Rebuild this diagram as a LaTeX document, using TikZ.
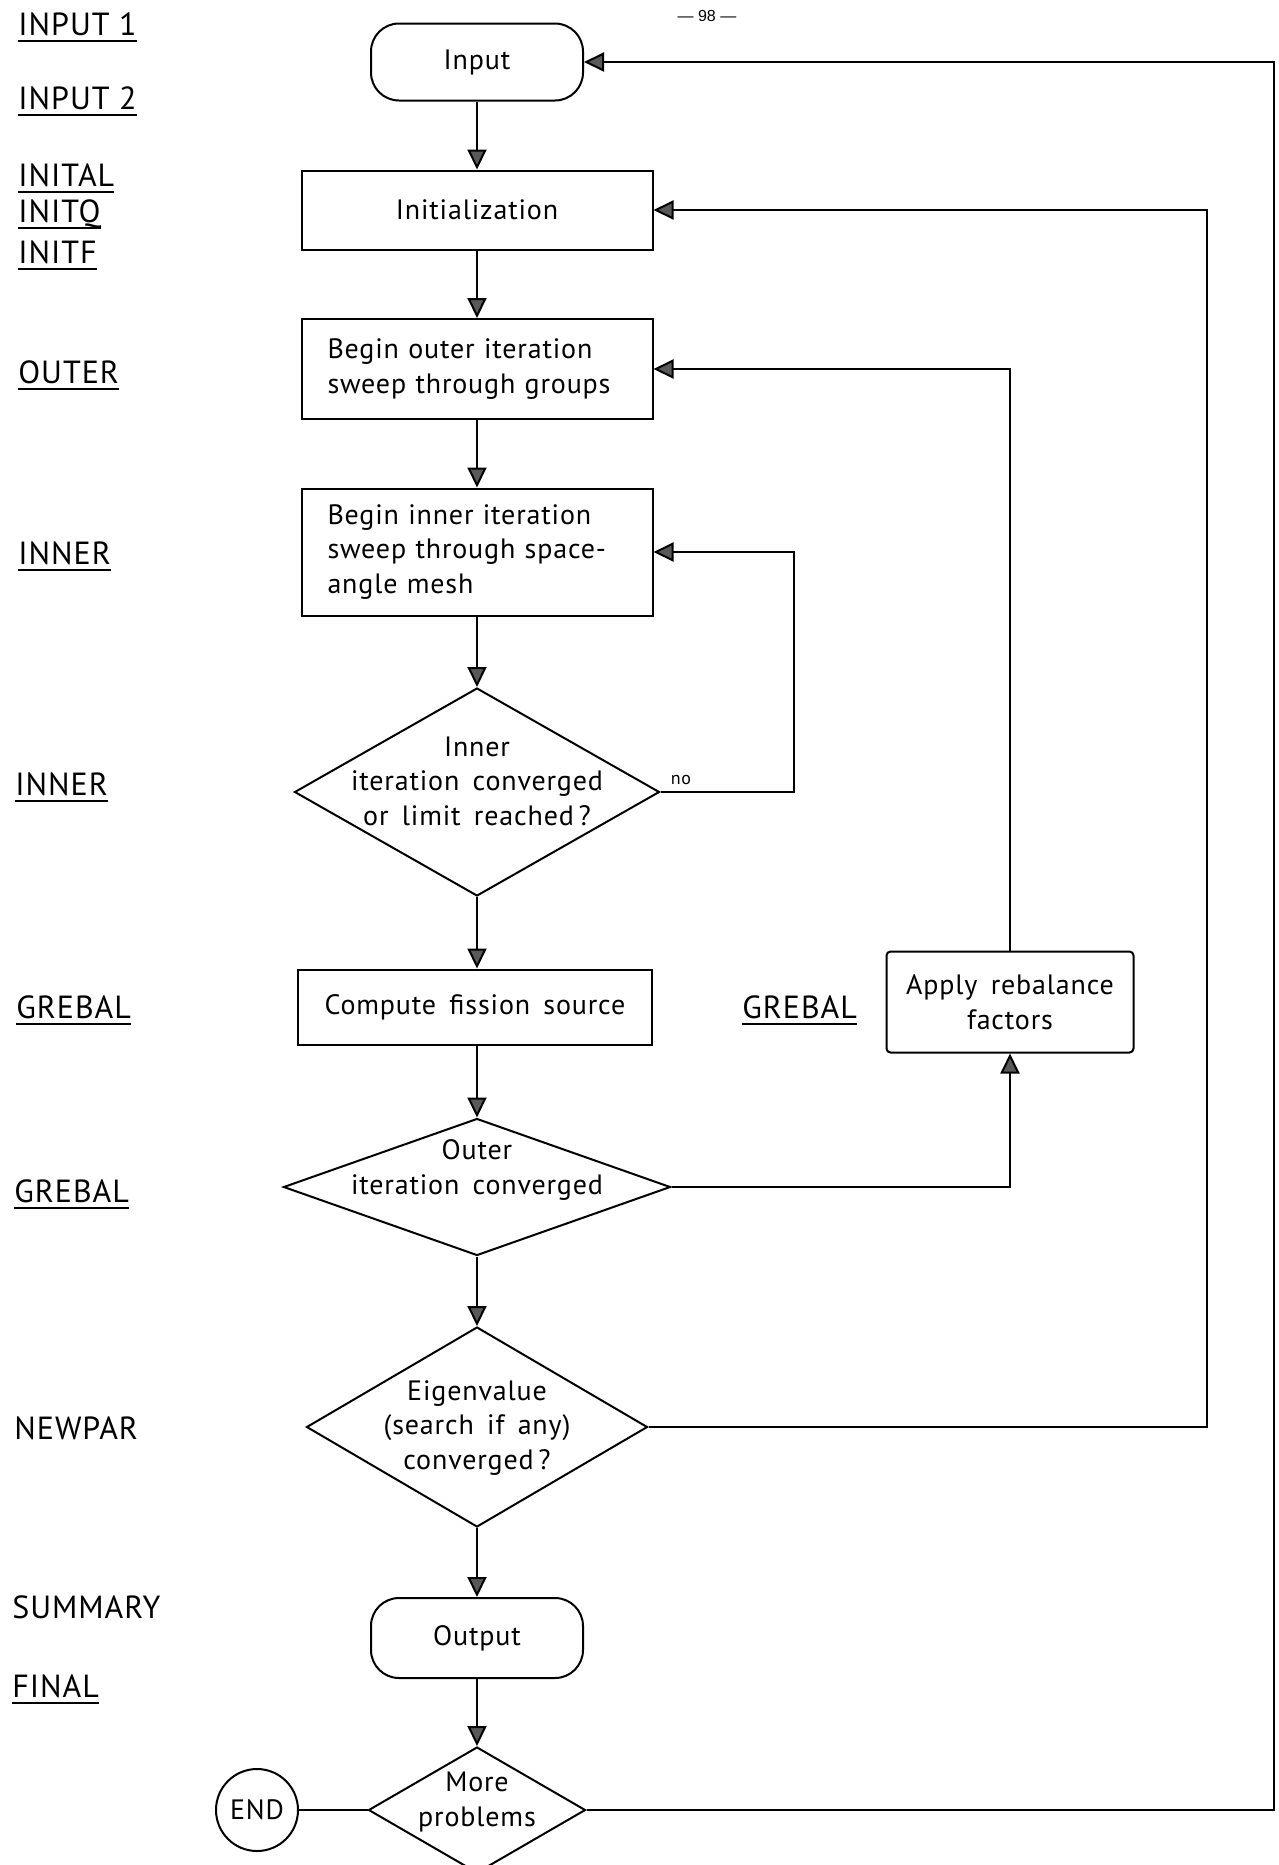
\documentclass[tikz,border=0pt]{standalone}
\usepackage{fontspec}
\setmainfont{PT Sans}[LetterSpace=3,WordSpace=1.6]
\newfontfamily\lblfont{PT Sans}[LetterSpace=3]
\newfontfamily\folio{Liberation Sans}
\usetikzlibrary{shapes.geometric,arrows.meta}

% underlined routine name, rule set a fixed distance under the baseline
\newcommand\ulw[1]{\setbox0\hbox{#1}\rlap{\smash{\rule[-3.5pt]{\wd0}{1.1pt}}}\box0}

\tikzset{
  flow/.style={line width=1pt},
  tip/.style={flow,-{Triangle[width=9.5pt,length=10pt,fill=black!65]}},
  boxtext/.style={font=\fontsize{14}{17.3}\selectfont},
  procbox/.style={draw,flow,boxtext,rectangle,inner sep=0pt,align=center},
  leftbox/.style={draw,flow,boxtext,rectangle,inner xsep=13pt,inner ysep=0pt,align=left},
  terminal/.style={draw,flow,boxtext,rectangle,rounded corners=14pt,inner sep=0pt},
  decision/.style={draw,flow,diamond,inner sep=0pt},
  dtext/.style={boxtext,align=center,inner sep=0pt},
  routine/.style={anchor=west,inner sep=0pt,font=\lblfont\fontsize{16}{19}\selectfont},
}

\begin{document}
\begin{tikzpicture}[x=0.5pt,y=-0.5pt]
  \path[use as bounding box,fill=white] (0,0) rectangle (1279,1865);

  % page number
  \node[font=\folio\fontsize{8}{9}\selectfont,inner sep=0pt] (folio) at (707,16) {— 98 —};

  % main column
  \node[terminal,minimum width=106pt,minimum height=38.5pt] (in) at (477,62) {Input};
  \node[procbox,minimum width=175.5pt,minimum height=39.5pt] (init) at (477,210) {Initialization};
  \node[leftbox,text width=149.5pt,minimum height=50pt] (outer) at (477,369)
       {Begin outer iteration\\sweep through groups};
  \node[leftbox,text width=149.5pt,minimum height=63.5pt] (inner) at (477,552)
       {Begin inner iteration\\sweep through space-\\angle mesh};
  \node[decision,minimum width=182.5pt,minimum height=104pt] (dinner) at (477,792) {};
  \node[dtext] (dinnert) at (477,781) {Inner\\iteration converged\\or limit reached\,?};
  \node[procbox,minimum width=177pt,minimum height=37.5pt] (fis) at (475,1007) {Compute fission source};
  \node[decision,minimum width=193.5pt,minimum height=68.5pt] (douter) at (477,1187) {};
  \node[dtext] (doutert) at (477,1170) {Outer\\iteration converged};
  \node[decision,minimum width=170.5pt,minimum height=100pt] (deig) at (477,1427) {};
  \node[dtext] (deigt) at (477,1428) {Eigenvalue\\(search if any)\\converged\,?};
  \node[terminal,minimum width=106pt,minimum height=40pt] (out) at (477,1638) {Output};
  \node[decision,minimum width=108.5pt,minimum height=63pt] (dmore) at (477,1810) {};
  \node[dtext] (dmoret) at (477,1802) {More\\problems};
  \node[draw,flow,circle,minimum size=41pt,inner sep=0pt,boxtext] (end) at (257,1810) {END};

  % rebalance branch
  \node[procbox,rounded corners=2pt,minimum width=123.5pt,minimum height=50.5pt] (reb) at (1010,1002)
       {Apply rebalance\\factors};

  % routine names
  \node[routine] (r1) at (18,24) {\ulw{INPUT 1}};
  \node[routine] (r2) at (18,98) {\ulw{INPUT 2}};
  \node[routine] (r3) at (18,175) {\ulw{INITAL}};
  \node[routine] (r4) at (18,214) {\ulw{INITQ}};
  \node[routine] (r5) at (18,252) {\ulw{INITF}};
  \node[routine] (r6) at (18,372) {\ulw{OUTER}};
  \node[routine] (r7) at (18,553) {\ulw{INNER}};
  \node[routine] (r8) at (15,784) {\ulw{INNER}};
  \node[routine] (r9) at (16,1007) {\ulw{GREBAL}};
  \node[routine] (r10) at (742,1007) {\ulw{GREBAL}};
  \node[routine] (r11) at (14,1191) {\ulw{GREBAL}};
  \node[routine] (r12) at (14,1428) {NEWPAR};
  \node[routine] (r13) at (12,1607) {SUMMARY};
  \node[routine] (r14) at (12,1686) {\ulw{FINAL}};

  % downward flow
  \draw[tip] (in) -- (init);
  \draw[tip] (init) -- (outer);
  \draw[tip] (outer) -- (inner);
  \draw[tip] (inner) -- (dinner.north);
  \draw[tip] (dinner.south) -- (dinner.south |- fis.north);
  \draw[tip] (dinner.south |- fis.south) -- (douter.north);
  \draw[tip] (douter.south) -- (deig.north);
  \draw[tip] (deig.south) -- (out);
  \draw[tip] (out) -- (dmore.north);
  \draw[flow] (end) -- (dmore.west);

  % feedback loops
  \coordinate (cinner) at (794,792);
  \draw[tip] (dinner.east) -- (cinner) |- (inner.east);
  \node[font=\fontsize{9}{10}\selectfont,inner sep=0pt] (no) at (681,780) {no};
  \draw[tip] (douter.east) -| (reb.south);
  \draw[tip] (reb.north) |- (outer.east);
  \coordinate (ceig) at (1207,1427);
  \draw[tip] (deig.east) -- (ceig) |- (init.east);
  \coordinate (cmore) at (1274,1810);
  \draw[tip] (dmore.east) -- (cmore) |- (in.east);
\end{tikzpicture}
\end{document}
